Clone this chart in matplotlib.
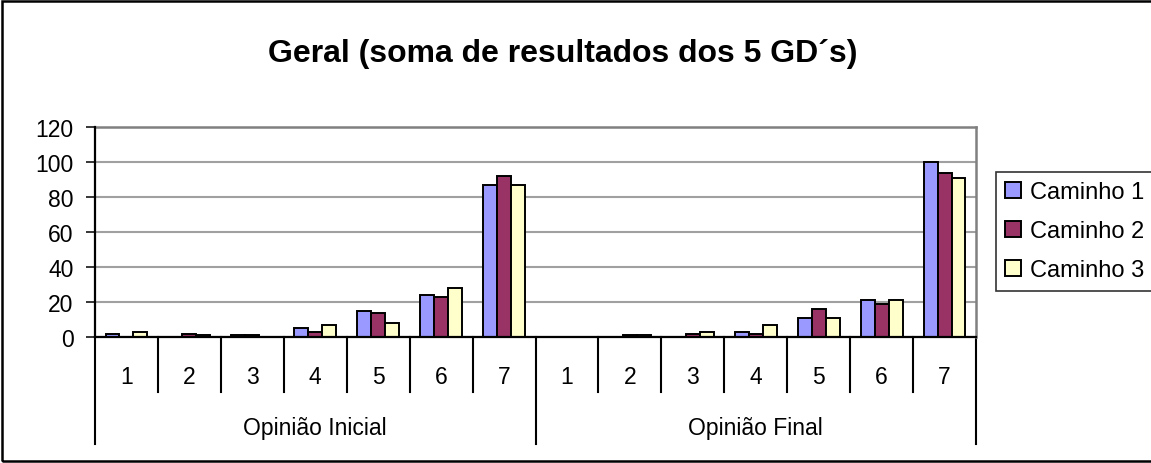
import numpy as np
import matplotlib
matplotlib.use("Agg")
import matplotlib.pyplot as plt
import matplotlib.transforms as mtransforms
from matplotlib.patches import Rectangle

plt.rcParams['font.family'] = ['Liberation Sans', 'DejaVu Sans']

# dados
grupos = ["Opinião Inicial", "Opinião Final"]
niveis = ["1", "2", "3", "4", "5", "6", "7"]
series = ["Caminho 1", "Caminho 2", "Caminho 3"]
caminho1 = [2, 0, 1, 5, 15, 24, 87, 0, 0, 0, 3, 11, 21, 100]
caminho2 = [0, 2, 1, 3, 14, 23, 92, 0, 1, 2, 2, 16, 19, 94]
caminho3 = [3, 1, 0, 7, 8, 28, 87, 0, 1, 3, 7, 11, 21, 91]
cores = ["#9999FF", "#993366", "#FFFFCC"]
yticks = [0, 20, 40, 60, 80, 100, 120]

W, H = 1151, 464
fig = plt.figure(figsize=(W / 100, H / 100), dpi=100)
ax = fig.add_axes([95 / W, 1 - 338 / H, (976 - 95) / W, (338 - 128) / H])

n = len(caminho1)
x = np.arange(n)
bw = 0.222
for k, (vals, cor, nome) in enumerate(zip([caminho1, caminho2, caminho3], cores, series)):
    ax.bar(x + (k - 1) * bw, vals, bw, color=cor, edgecolor="black",
           linewidth=1.4, label=nome, zorder=3)

ax.set_xlim(-0.5, n - 0.5)
ax.set_ylim(0, 120)
ax.set_yticks(yticks)
ax.set_yticklabels([str(v) for v in yticks], fontsize=16.5)
ax.tick_params(axis="y", direction="out", length=6.5, width=1.1, pad=9)
ax.set_xticks([])
ax.yaxis.grid(True, color="#a0a0a0", linewidth=1.5, zorder=0)

for s in ["left", "bottom"]:
    ax.spines[s].set_color("black")
    ax.spines[s].set_linewidth(1.6)
    ax.spines[s].set_zorder(4)
for s in ["top", "right"]:
    ax.spines[s].set_color("#808080")
    ax.spines[s].set_linewidth(1.8)

# eixo de categorias em dois niveis
trans = mtransforms.blended_transform_factory(ax.transData, ax.transAxes)
for i in range(n):
    ax.text(x[i], -0.189, niveis[i % 7], transform=trans, ha="center",
            va="center", fontsize=16.5)
for i in range(1, n):
    if i % 7 == 0:
        continue
    ax.plot([i - 0.5, i - 0.5], [0, -0.261], transform=trans, color="black",
            lw=1.5, clip_on=False)
for b in [-0.5, 6.5, 13.5]:
    ax.plot([b, b], [0, -0.51], transform=trans, color="black", lw=1.5,
            clip_on=False)
for g, nome in enumerate(grupos):
    ax.text(g * 7 + 3, -0.429, nome, transform=trans, ha="center",
            va="center", fontsize=16.5)

fig.text(563 / W, 1 - 54 / H, "Geral (soma de resultados dos 5 GD´s)",
         ha="center", va="center", fontsize=23, fontweight="bold")

leg = fig.legend(loc="upper left", bbox_to_anchor=(996 / W, 1 - 173 / H),
                 fontsize=17, frameon=True, fancybox=False, borderpad=0.4,
                 labelspacing=0.72, handlelength=0.65, handleheight=0.65,
                 handletextpad=0.4, borderaxespad=0)
leg.get_frame().set_edgecolor("black")
leg.get_frame().set_linewidth(1.2)

# moldura externa
fig.patches.append(Rectangle((0.002, 0.004), 1.1, 0.992, transform=fig.transFigure,
                             fill=False, edgecolor="black", linewidth=1.8))

fig.savefig("out.png", dpi=100)
